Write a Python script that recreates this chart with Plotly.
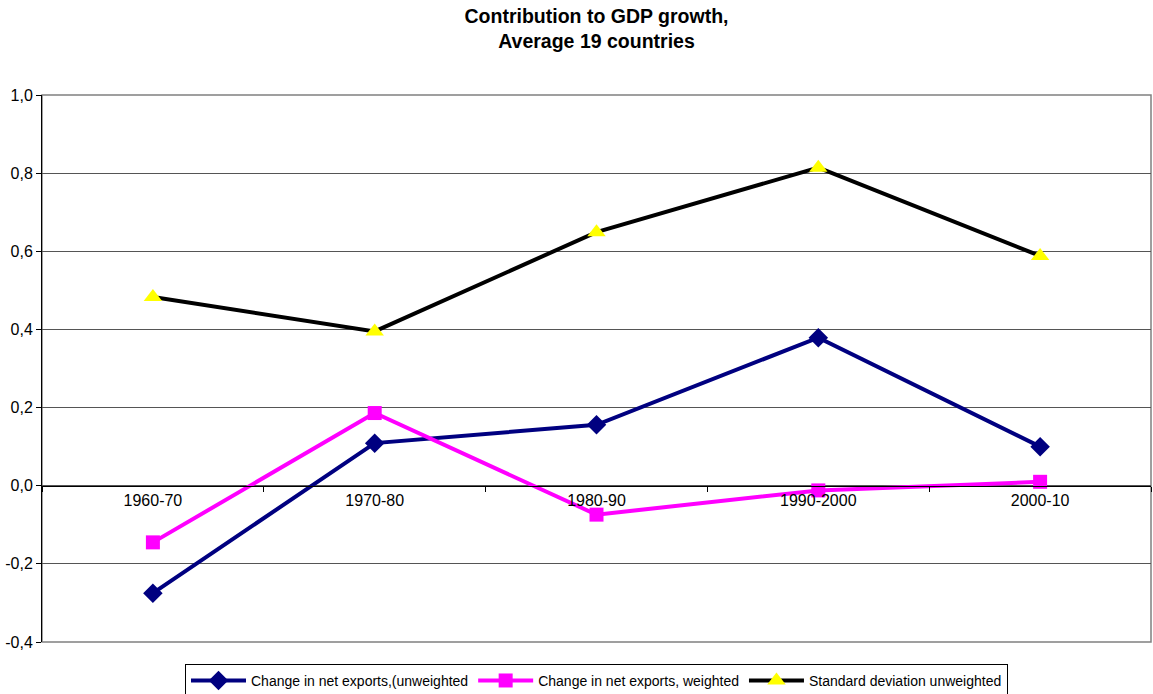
import plotly.graph_objects as go

categories = ["1960-70", "1970-80", "1980-90", "1990-2000", "2000-10"]
net_exports_unweighted = [-0.275, 0.109, 0.156, 0.379, 0.100]
net_exports_weighted = [-0.145, 0.186, -0.074, -0.012, 0.010]
std_dev_unweighted = [0.483, 0.395, 0.649, 0.814, 0.588]

y_ticks = [-0.4, -0.2, 0.0, 0.2, 0.4, 0.6, 0.8, 1.0]
y_tick_labels = ["-0,4", "-0,2", "0,0", "0,2", "0,4", "0,6", "0,8", "1,0"]
y_range = [-0.4, 1.0]

FONT = "Liberation Sans, Arial, sans-serif"

fig = go.Figure()
fig.add_trace(go.Scatter(
    x=categories, y=net_exports_unweighted, mode="lines+markers",
    name="Change in net exports,(unweighted",
    line=dict(color="#000080", width=4),
    marker=dict(symbol="diamond", size=15, color="#000080"),
))
fig.add_trace(go.Scatter(
    x=categories, y=net_exports_weighted, mode="lines+markers",
    name="Change in net exports, weighted",
    line=dict(color="#FF00FF", width=4),
    marker=dict(symbol="square", size=14, color="#FF00FF"),
))
fig.add_trace(go.Scatter(
    x=categories, y=std_dev_unweighted, mode="lines+markers",
    name="Standard deviation unweighted",
    line=dict(color="#000000", width=4),
    marker=dict(symbol="triangle-up", size=16, color="#FFFF00", line=dict(width=0)),
))

zero_pos = (0 - y_range[0]) / (y_range[1] - y_range[0])

fig.update_layout(
    width=1153, height=694,
    margin=dict(l=42, r=2, t=95, b=52, autoexpand=False),
    paper_bgcolor="white", plot_bgcolor="white",
    font=dict(family=FONT, color="black"),
    title=dict(
        text="<b>Contribution to GDP growth,<br>Average 19 countries</b>",
        x=0.5, xref="paper", xanchor="center",
        y=1 - 23 / 694, yref="container", yanchor="middle",
        font=dict(family=FONT, size=19.5, color="black"),
    ),
    xaxis=dict(
        type="category", range=[-0.5, 4.5],
        anchor="free", position=zero_pos,
        showline=True, linecolor="black", linewidth=1,
        ticks="outside", tickson="boundaries", ticklen=5, tickcolor="black",
        showgrid=False, zeroline=False,
        tickfont=dict(family=FONT, size=16, color="black"),
    ),
    yaxis=dict(
        range=y_range, tickvals=y_ticks, ticktext=y_tick_labels,
        showline=True, linecolor="black", linewidth=1,
        ticks="outside", ticklen=5, tickcolor="black",
        showgrid=True, gridcolor="#555555", gridwidth=1,
        zeroline=False,
        tickfont=dict(family=FONT, size=16, color="black"),
        domain=[0, 1],
    ),
    legend=dict(
        orientation="h", x=0.5, xanchor="center", y=-0.04, yanchor="top",
        bordercolor="black", borderwidth=1,
        font=dict(family=FONT, size=14, color="black"),
        itemwidth=55, tracegroupgap=0,
    ),
    shapes=[dict(
        type="rect", xref="paper", yref="paper", x0=0, x1=1, y0=0, y1=1,
        line=dict(color="#808080", width=1.5), layer="below",
    )],
    showlegend=True,
)

fig.write_html("out.html")
